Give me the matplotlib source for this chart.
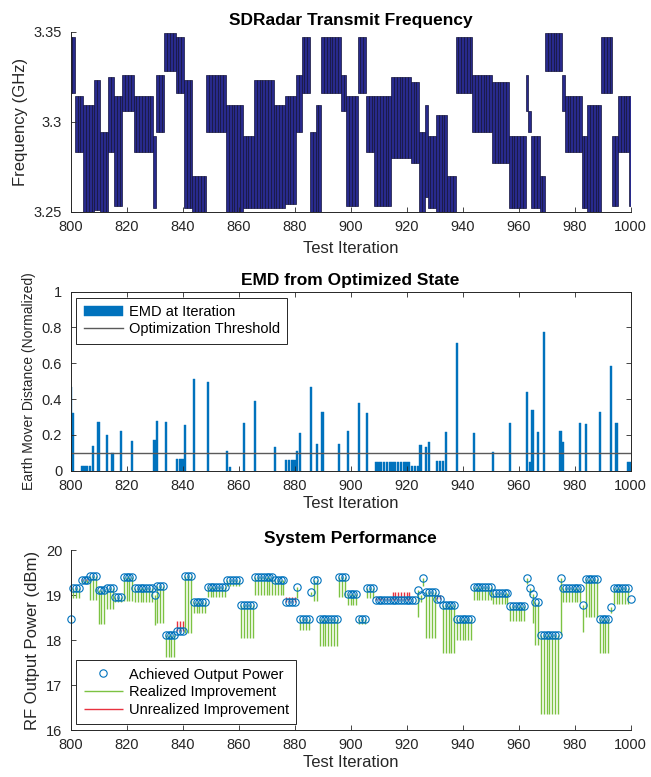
import matplotlib.pyplot as plt
import numpy as np

plt.rcParams["font.family"] = ["Liberation Sans", "DejaVu Sans"]

LAST_ITER = 1000
X_TICKS = list(range(800, 1001, 20))

# ── top: transmit band per hop (first iteration of each hop, band edges GHz) ──
HOP_START = [800, 802, 805, 809, 811, 814, 816, 819, 823, 830,
             831, 834, 838, 841, 844, 849, 856, 862, 866, 873,
             877, 881, 883, 886, 888, 890, 897, 899, 903, 906,
             909, 915, 922, 925, 927, 928, 931, 935, 938, 944,
             951, 957, 963, 964, 965, 968, 970, 976, 977, 983,
             985, 990, 994, 996, 1000]
HOP_LOW = [3.316, 3.283, 3.250, 3.251, 3.250, 3.283, 3.253, 3.306, 3.283, 3.252,
           3.294, 3.328, 3.316, 3.252, 3.250, 3.294, 3.250, 3.252, 3.252, 3.252,
           3.254, 3.294, 3.316, 3.250, 3.250, 3.316, 3.306, 3.253, 3.316, 3.283,
           3.253, 3.280, 3.277, 3.250, 3.258, 3.252, 3.250, 3.250, 3.316, 3.294,
           3.277, 3.252, 3.306, 3.294, 3.252, 3.250, 3.328, 3.306, 3.283, 3.252,
           3.250, 3.316, 3.253, 3.283, 3.253]
HOP_HIGH = [3.347, 3.314, 3.309, 3.323, 3.294, 3.325, 3.314, 3.326, 3.314, 3.292,
            3.326, 3.349, 3.347, 3.323, 3.270, 3.326, 3.309, 3.292, 3.323, 3.309,
            3.314, 3.326, 3.347, 3.294, 3.309, 3.347, 3.326, 3.314, 3.347, 3.314,
            3.314, 3.325, 3.322, 3.294, 3.309, 3.292, 3.304, 3.270, 3.347, 3.326,
            3.322, 3.292, 3.326, 3.306, 3.292, 3.270, 3.349, 3.326, 3.314, 3.292,
            3.309, 3.347, 3.292, 3.314, 3.314]

# ── middle: EMD from optimized state ──
EMD_ITER = [800, 801, 804, 805, 806, 807, 808, 810, 813, 815, 818, 822,
            830, 831, 834, 838, 839, 840, 841, 844, 849, 856, 857, 862,
            866, 873, 877, 878, 879, 880, 881, 882, 886, 888, 890, 896,
            899, 903, 906, 909, 910, 911, 912, 913, 914, 915, 916, 917,
            918, 919, 920, 921, 922, 923, 924, 925, 927, 928, 931, 932,
            933, 934, 938, 944, 951, 957, 963, 964, 965, 967, 969, 975,
            976, 982, 984, 989, 993, 995, 999, 1000]
EMD_VALUE = [0.47, 0.32, 0.025, 0.025, 0.025, 0.025, 0.14, 0.27, 0.20, 0.097, 0.22, 0.166,
             0.17, 0.28, 0.27, 0.065, 0.065, 0.065, 0.255, 0.51, 0.494, 0.112, 0.02, 0.265,
             0.39, 0.134, 0.06, 0.06, 0.06, 0.06, 0.11, 0.209, 0.466, 0.149, 0.326, 0.15,
             0.222, 0.376, 0.32, 0.05, 0.05, 0.05, 0.05, 0.05, 0.05, 0.05, 0.05, 0.05,
             0.05, 0.05, 0.05, 0.05, 0.026, 0.026, 0.026, 0.146, 0.13, 0.16, 0.055, 0.055,
             0.055, 0.214, 0.712, 0.209, 0.106, 0.268, 0.441, 0.05, 0.339, 0.214, 0.777, 0.22,
             0.163, 0.268, 0.26, 0.326, 0.587, 0.268, 0.05, 0.05]
EMD_THRESHOLD = 0.1

# ── bottom: output power (dBm) per run of iterations ──
PWR_START = [800, 801, 804, 807, 810, 813, 816, 819, 823, 830,
             831, 834, 838, 841, 844, 849, 856, 861, 866, 873,
             877, 881, 882, 886, 887, 889, 896, 899, 903, 906,
             909, 915, 922, 924, 925, 926, 927, 931, 933, 938,
             944, 951, 957, 963, 964, 965, 966, 968, 975, 976,
             983, 984, 989, 993, 994, 1000]
PWR_ACHIEVED = [18.47, 19.16, 19.33, 19.43, 19.12, 19.16, 18.97, 19.40, 19.16, 19.00,
                19.20, 18.12, 18.20, 19.43, 18.84, 19.19, 19.33, 18.78, 19.41, 19.33,
                18.84, 19.19, 18.47, 19.08, 19.34, 18.47, 19.41, 19.02, 18.47, 19.16,
                18.90, 18.90, 18.90, 19.12, 19.00, 19.39, 19.07, 18.91, 18.78, 18.47,
                19.19, 19.04, 18.76, 19.39, 19.17, 19.02, 18.84, 18.12, 19.39, 19.16,
                18.78, 19.36, 18.47, 18.74, 19.16, 18.91]
PWR_INITIAL = [18.40, 18.93, 19.28, 18.90, 18.36, 18.70, 18.86, 18.87, 18.86, 18.34,
               18.38, 17.63, 18.20, 18.15, 18.60, 18.97, 19.20, 18.04, 19.00, 19.00,
               18.84, 18.93, 18.23, 19.00, 18.87, 17.86, 18.97, 18.78, 18.37, 18.93,
               18.90, 18.90, 18.90, 18.52, 18.85, 19.20, 18.05, 18.91, 17.71, 18.00,
               18.90, 18.80, 18.42, 19.25, 19.00, 18.38, 17.89, 16.36, 18.12, 18.86,
               18.19, 18.52, 17.71, 18.60, 18.80, 18.91]
PWR_TARGET = [18.47, 19.16, 19.36, 19.43, 19.12, 19.16, 18.97, 19.40, 19.16, 19.00,
              19.20, 18.12, 18.43, 19.43, 18.84, 19.19, 19.33, 18.78, 19.41, 19.33,
              18.95, 19.19, 18.47, 19.08, 19.34, 18.47, 19.41, 19.02, 18.47, 19.16,
              18.95, 19.07, 18.90, 19.12, 19.00, 19.39, 19.07, 19.00, 18.78, 18.47,
              19.19, 19.04, 18.76, 19.39, 19.17, 19.02, 18.84, 18.12, 19.39, 19.16,
              18.78, 19.36, 18.47, 18.74, 19.16, 18.96]

NAVY = "#282a8c"
BLUE = "#0072BD"
GREEN = "#7cc242"
RED = "#e8323f"
AXCOL = "#262626"


def expand(starts, values, last=LAST_ITER):
    """Run-length expand per-run values onto every iteration."""
    starts = np.asarray(starts)
    counts = np.diff(np.append(starts, last + 1))
    iters = np.arange(starts[0], last + 1)
    return iters, np.repeat(np.asarray(values, dtype=float), counts)


def style_axes(ax, box=False):
    for side in ("top", "right"):
        ax.spines[side].set_visible(box)
    for sp in ax.spines.values():
        sp.set_color(AXCOL)
        sp.set_linewidth(0.7)
    ax.tick_params(direction="in", length=3.5, width=0.6, colors=AXCOL,
                   labelsize=10.5, top=box, right=box)
    ax.tick_params(axis="x", pad=6)
    ax.tick_params(axis="y", pad=6)
    ax.set_xlim(800, 1000)
    ax.set_xticks(X_TICKS)
    ax.set_xlabel("Test Iteration", fontsize=12, color=AXCOL, labelpad=2)


def boxed_legend(ax, handles, labels, loc):
    leg = ax.legend(handles, labels, loc=loc, fontsize=10.5, handlelength=2.7,
                    handletextpad=0.4, borderpad=0.5, labelspacing=0.25,
                    fancybox=False, framealpha=1, edgecolor=AXCOL,
                    borderaxespad=0.4)
    leg.get_frame().set_linewidth(0.7)
    return leg


W, H = 651, 777
fig = plt.figure(figsize=(W / 100, H / 100), dpi=100)


def px_axes(x0, y0, x1, y1):
    return fig.add_axes([x0 / W, 1 - y1 / H, (x1 - x0) / W, (y1 - y0) / H])


# ── 1. transmit frequency ──
ax1 = px_axes(70.5, 31.7, 630.5, 211.7)
it, lo = expand(HOP_START, HOP_LOW)
_, hi = expand(HOP_START, HOP_HIGH)
ax1.bar(it, hi - lo, bottom=lo, width=1.0, color=NAVY,
        edgecolor="#12123a", linewidth=0.5)
ax1.set_ylim(3.25, 3.35)
ax1.set_yticks([3.25, 3.3, 3.35])
ax1.set_yticklabels(["3.25", "3.3", "3.35"])
ax1.set_ylabel("Frequency (GHz)", fontsize=12, color=AXCOL)
ax1.set_title("SDRadar Transmit Frequency", fontsize=12.5,
              fontweight="bold", pad=5)
style_axes(ax1)
ax1.xaxis.labelpad = 5

# ── 2. EMD ──
ax2 = px_axes(70.5, 291.7, 630.5, 470.7)
bars = ax2.bar(EMD_ITER, EMD_VALUE, width=0.8, color=BLUE, edgecolor=BLUE,
               linewidth=0.3)
thr = ax2.axhline(EMD_THRESHOLD, color="#5a5a5a", linewidth=1.0)
ax2.set_ylim(0, 1)
ax2.set_yticks([0, 0.2, 0.4, 0.6, 0.8, 1])
ax2.set_yticklabels(["0", "0.2", "0.4", "0.6", "0.8", "1"])
ax2.set_ylabel("Earth Mover Distance (Normalized)", fontsize=10, color=AXCOL)
ax2.set_title("EMD from Optimized State", fontsize=12.5,
              fontweight="bold", pad=5)
style_axes(ax2, box=True)
boxed_legend(ax2, [bars, thr], ["EMD at Iteration", "Optimization Threshold"],
             "upper left")

# ── 3. system performance ──
ax3 = px_axes(70.5, 550.3, 630.5, 730)
pit, ach = expand(PWR_START, PWR_ACHIEVED)
_, ini = expand(PWR_START, PWR_INITIAL)
_, tgt = expand(PWR_START, PWR_TARGET)
gain = ach > ini
realized = ax3.vlines(pit[gain], ini[gain], ach[gain], color=GREEN,
                      linewidth=1.0)
miss = tgt > ach
unrealized = ax3.vlines(pit[miss], ach[miss], tgt[miss], color=RED,
                        linewidth=1.0)
achieved, = ax3.plot(pit, ach, "o", mfc="none", mec=BLUE, ms=5.3, mew=0.8,
                     clip_on=False)
ax3.set_ylim(16, 20)
ax3.set_yticks([16, 17, 18, 19, 20])
ax3.set_ylabel("RF Output Power (dBm)", fontsize=12, color=AXCOL)
ax3.set_title("System Performance", fontsize=12.5, fontweight="bold", pad=5)
style_axes(ax3)
boxed_legend(ax3, [achieved, realized, unrealized],
             ["Achieved Output Power", "Realized Improvement",
              "Unrealized Improvement"], "lower left")

fig.savefig("out.png", dpi=100)
